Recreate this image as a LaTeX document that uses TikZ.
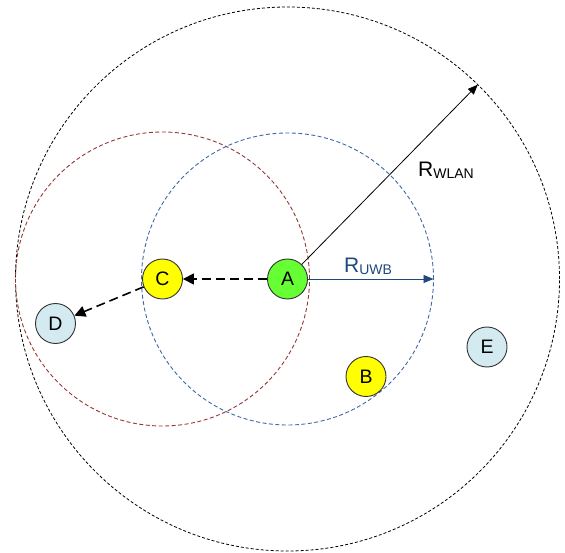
\documentclass[tikz,border=0pt]{standalone}
\usepackage{fontspec}
\setmainfont{Liberation Sans}
\usetikzlibrary{arrows.meta}
\definecolor{nodegreen}{HTML}{66FF33}
\definecolor{nodeyellow}{HTML}{FFFF00}
\definecolor{nodeblue}{HTML}{D3EAF0}
\definecolor{uwbblue}{HTML}{1F497D}
\definecolor{circblue}{HTML}{3E68A8}
\definecolor{circred}{HTML}{953735}
\tikzset{
  station/.style={circle, draw=black!80, line width=0.9pt, minimum size=40pt, inner sep=0pt,
    font=\fontsize{19.5}{19.5}\selectfont},
  rangebig/.style={draw=black, line width=0.8pt, dash pattern=on 3pt off 2pt},
  rangeuwb/.style={draw=circblue, line width=0.9pt, dash pattern=on 4pt off 2.5pt},
  rangered/.style={draw=circred, line width=0.9pt, dash pattern=on 4pt off 2.5pt},
  hop/.style={draw=black, line width=1.6pt, dash pattern=on 9pt off 5pt, -{Triangle[length=11pt,width=11pt]}},
  radius/.style={line width=0.8pt, -{Triangle[length=10pt,width=8pt]}},
  rlabel/.style={anchor=base west, inner sep=0pt, font=\fontsize{21}{21}\selectfont}
}
\newcommand{\subtxt}[1]{\raisebox{-2pt}{\fontsize{14}{14}\selectfont #1}}
\begin{document}
\begin{tikzpicture}[x=1pt,y=-1pt]
\useasboundingbox (0,0) rectangle (565,553);
\coordinate (ctrA) at (287.5,279);
\coordinate (ctrC) at (162.5,279);
% range circles
\draw[rangebig] (ctrA) circle (272pt);
\draw[rangered] (ctrC) circle (147pt);
\draw[rangeuwb] (ctrA) circle (146pt);
% nodes
\node[station, fill=nodegreen] (A) at (ctrA) {A};
\node[station, fill=nodeyellow] (C) at (ctrC) {C};
\node[station, fill=nodeblue] (D) at (55.5,323.5) {D};
\node[station, fill=nodeyellow] (B) at (366,376.5) {B};
\node[station, fill=nodeblue] (E) at (487,347) {E};
% range end points
\path (ctrA) ++(45.6:272pt) coordinate (wlanend);
\path (ctrA) ++(146,0) coordinate (uwbend);
% arrows
\draw[radius, draw=black] (A) -- (wlanend);
\draw[radius, draw=uwbblue] (A) -- (uwbend);
\draw[hop] (A) -- (C);
\draw[hop] (C) -- (D);
% labels
\node[rlabel] (rwlan) at (418,177) {R\subtxt{WLAN}};
\node[rlabel, text=uwbblue] (ruwb) at (344,273) {R\subtxt{UWB}};
\end{tikzpicture}
\end{document}
